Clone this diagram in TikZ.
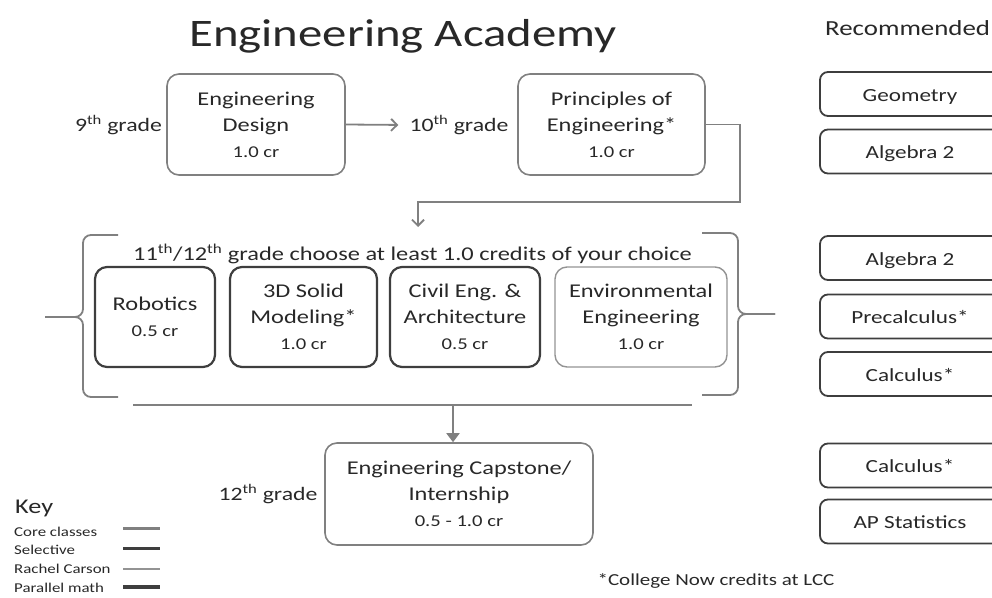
\documentclass[tikz,border=0pt]{standalone}
\usepackage{fontspec}
\setmainfont{Carlito}[FakeStretch=1.25]
\usetikzlibrary{arrows.meta, positioning, calc}
\definecolor{coregray}{RGB}{128,128,128}
\definecolor{seldark}{RGB}{62,62,62}
\definecolor{txtgray}{RGB}{40,40,40}
\newcommand{\credit}[1]{{\fontsize{16.5}{19}\selectfont #1 cr}}

\begin{document}
\begin{tikzpicture}[x=1pt, y=-1pt,
    core/.style={rectangle, rounded corners=12pt, draw=coregray, line width=1.6pt, align=center, inner sep=0pt, text=txtgray, font=\fontsize{19.5}{26}\selectfont},
    selective/.style={core, draw=seldark, line width=2.2pt},
    carson/.style={core, draw=coregray!85, line width=1.4pt},
    mathbox/.style={rectangle, rounded corners=8pt, draw=seldark, line width=1.8pt, minimum width=180pt, minimum height=44pt, inner sep=0pt, text=txtgray, text height=18pt, text depth=4pt, font=\fontsize{18.5}{22}\selectfont},
    grade/.style={text=txtgray, inner sep=2pt, font=\fontsize{19}{23}\selectfont},
    keytext/.style={anchor=west, inner sep=0pt, text=txtgray, font=\fontsize{13.5}{15}\selectfont},
    link/.style={draw=coregray, line width=1.8pt},
    arrow/.style={link, -{Straight Barb[length=6pt, width=12pt]}},
    bigarrow/.style={link, -{Triangle[length=9pt, width=13pt]}}
]
\useasboundingbox (0,0) rectangle (992,597);

% titles
\node[text=txtgray, font=\fontsize{39}{44}\selectfont] (title) at (403,36) {Engineering Academy};
\node[text=txtgray, inner sep=0pt, font=\fontsize{21.5}{24}\selectfont, anchor=west] (rec) at (825,28) {Recommended};

% 9th and 10th grade
\node[grade] (g9) at (118.5,125) {9\textsuperscript{th} grade};
\node[core, minimum width=178pt, minimum height=101pt] (design) at (256,124.5) {Engineering\\Design\\\credit{1.0}};
\node[grade] (g10) at (459,125) {10\textsuperscript{th} grade};
\node[core, minimum width=187pt, minimum height=101pt] (poe) at (611.5,124.5) {Principles of\\Engineering*\\\credit{1.0}};

% 11th/12th grade choices
\node[text=txtgray, font=\fontsize{19.5}{23}\selectfont] (choose) at (412.5,254) {11\textsuperscript{th}/12\textsuperscript{th} grade choose at least 1.0 credits of your choice};
\node[selective, minimum width=120pt, minimum height=100pt] (robot) at (155,317) {Robotics\\\credit{0.5}};
\node[selective, minimum width=147pt, minimum height=100pt] (solid) at (303.5,317) {3D Solid\\Modeling*\\\credit{1.0}};
\node[selective, minimum width=150pt, minimum height=100pt] (civil) at (465,317) {Civil Eng. \&\\Architecture\\\credit{0.5}};
\node[carson, minimum width=172pt, minimum height=100pt] (enviro) at (641,317) {Environmental\\Engineering\\\credit{1.0}};

% 12th grade
\node[grade] (g12) at (268,494) {12\textsuperscript{th} grade};
\node[core, minimum width=268pt, minimum height=102pt] (cap) at (459,494) {Engineering Capstone/\\Internship\\\credit{0.5 - 1.0}};

% brackets round the choices
\draw[link, rounded corners=8pt] (118,235) -- (83,235) -- (83,317) -- (45,317);
\draw[link, rounded corners=8pt] (118,397) -- (83,397) -- (83,317) -- (45,317);
\draw[link, rounded corners=8pt] (702,233) -- (738,233) -- (738,314) -- (775,314);
\draw[link, rounded corners=8pt] (702,395) -- (738,395) -- (738,314) -- (775,314);

% connectors
\coordinate (turn) at (740,202);
\coordinate (drop) at (418,227);
\coordinate (barL) at (133,405);
\coordinate (barR) at (692,405);
\coordinate (down) at (453,405);
\draw[arrow, shorten >=9pt] (design.east) -- (g10.west);
\draw[arrow] (poe.east) -| (turn) -| (drop);
\draw[link] (barL) -- (barR);
\draw[bigarrow] (down) -- (down |- cap.north);

% recommended math
\node[mathbox] (geo) at (910,94) {Geometry};
\node[mathbox] (alg1) at (910,151.5) {Algebra 2};
\node[mathbox] (alg2) at (910,258) {Algebra 2};
\node[mathbox] (precalc) at (910,316.5) {Precalculus*};
\node[mathbox] (calc1) at (910,374) {Calculus*};
\node[mathbox] (calc2) at (910,465.5) {Calculus*};
\node[mathbox] (stats) at (910,521.5) {AP Statistics};

% key
\node[text=txtgray, inner sep=0pt, font=\fontsize{21}{24}\selectfont, anchor=west] (key) at (15,508) {Key};
\node[keytext] (kcore) at (14,532) {Core classes};
\node[keytext] (ksel) at (14,550) {Selective};
\node[keytext] (kcar) at (14,569) {Rachel Carson};
\node[keytext] (kmath) at (14,588) {Parallel math};
\draw[draw=coregray, line width=3pt] (123,528) -- (160,528);
\draw[draw=seldark, line width=3pt] (123,548) -- (160,548);
\draw[draw=coregray!85, line width=2.6pt] (123,569) -- (160,569);
\draw[draw=seldark, line width=3.4pt] (123,587) -- (160,587);

\node[text=txtgray, font=\fontsize{16.8}{19}\selectfont] (note) at (716,581) {*College Now credits at LCC};
\end{tikzpicture}
\end{document}
